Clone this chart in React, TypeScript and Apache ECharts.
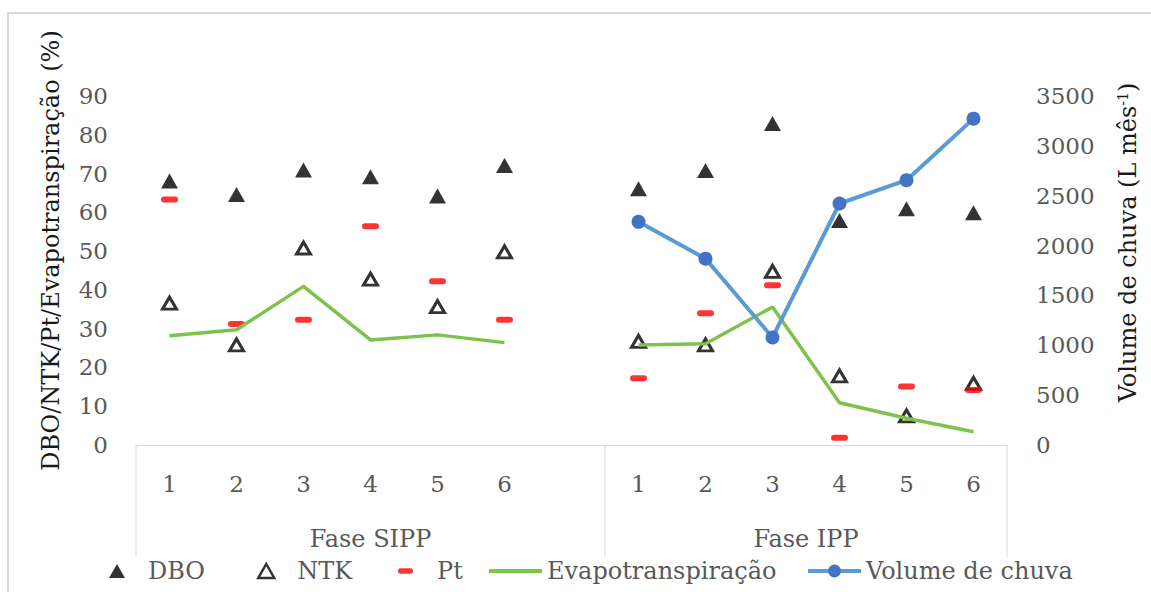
import React, { useEffect, useRef } from "react";
import * as echarts from "echarts";

const categories = ["1", "2", "3", "4", "5", "6", "", "1", "2", "3", "4", "5", "6"];
const groupLabels = ["Fase SIPP", "Fase IPP"];
const groupStartIdx = [0, 7];
const dbo = [68.1, 64.6, 70.9, 69.2, 64.2, 72.1, null, 66.1, 70.8, 82.9, 57.9, 60.9, 59.9];
const ntk = [36.6, 25.8, 50.8, 42.8, 35.7, 49.8, null, 26.7, 25.8, 44.8, 17.8, 7.5, 15.9];
const pt = [63.3, 31.2, 32.3, 56.4, 42.2, 32.3, null, 17.2, 34.0, 41.2, 1.9, 15.1, 14.2];
const evapo = [28.2, 29.7, 40.9, 27.1, 28.4, 26.4, null, 25.8, 26.1, 35.6, 10.9, 6.9, 3.4];
const chuva = [null, null, null, null, null, null, null, 2238, 1869, 1078, 2422, 2656, 3273];

const FONT = "DejaVu Serif";
const GRAY = "#595959";
const LINE_GRAY = "#d9d9d9";
const GREEN = "#7dc24a";
const PT_PATH = "path://M3,0 H14 A3,3 0 0 1 14,6 H3 A3,3 0 0 1 3,0 Z";
const BAR_PATH = "path://M0,0 H53 V4 H0 Z";

export default function App() {
  const ref = useRef<HTMLDivElement>(null);
  useEffect(() => {
    if (!ref.current) return;
    const chart = echarts.init(ref.current, null, { renderer: "svg" });
    const legendBase = {
      orient: "horizontal",
      padding: 0,
      top: 559,
      selectedMode: false,
      textStyle: { fontFamily: FONT, fontSize: 24, color: GRAY },
    };
    const option: any = {
      animation: false,
      backgroundColor: "#fff",
      grid: { left: 136, right: 144, top: 96, bottom: 147, containLabel: false },
      xAxis: {
        type: "category",
        data: categories,
        boundaryGap: true,
        axisLine: { show: true, lineStyle: { color: LINE_GRAY, width: 1 } },
        axisTick: { show: false },
        axisLabel: { fontFamily: FONT, fontSize: 23, color: GRAY, margin: 27, interval: 0 },
        splitLine: { show: false },
      },
      yAxis: [
        {
          type: "value",
          min: 0,
          max: 90,
          interval: 10,
          axisLine: { show: false },
          axisTick: { show: false },
          splitLine: { show: false },
          axisLabel: { fontFamily: FONT, fontSize: 23, color: GRAY, margin: 28 },
        },
        {
          type: "value",
          min: 0,
          max: 3500,
          interval: 500,
          position: "right",
          axisLine: { show: false },
          axisTick: { show: false },
          splitLine: { show: false },
          axisLabel: {
            fontFamily: FONT,
            fontSize: 23,
            color: GRAY,
            margin: 29,
            formatter: (v: number) => String(v),
          },
        },
      ],
      legend: [
        { ...legendBase, left: 109, itemWidth: 16, itemHeight: 14, data: ["DBO"],
          textStyle: { ...legendBase.textStyle, padding: [0, 0, 0, 18] } },
        { ...legendBase, left: 257, itemWidth: 16, itemHeight: 14, data: ["NTK"],
          itemStyle: { color: "#fff", borderColor: "#000", borderWidth: 2.5 },
          textStyle: { ...legendBase.textStyle, padding: [0, 0, 0, 18] } },
        { ...legendBase, left: 398, itemWidth: 15, itemHeight: 6, data: ["Pt"],
          textStyle: { ...legendBase.textStyle, padding: [0, 0, 0, 19] } },
        { ...legendBase, left: 489, itemWidth: 53, itemHeight: 4,
          data: [{ name: "Evapotranspiração", icon: BAR_PATH }],
          itemStyle: { color: GREEN, borderWidth: 0 } },
        { ...legendBase, left: 806, itemWidth: 53, itemHeight: 16, data: ["Volume de chuva"],
          lineStyle: { width: 4, color: "#5b9bd5" } },
      ],
      series: [
        {
          name: "DBO",
          type: "scatter",
          data: dbo,
          symbol: "triangle",
          symbolSize: [17, 15],
          itemStyle: { color: "#000" },
        },
        {
          name: "NTK",
          type: "scatter",
          data: ntk,
          symbol: "triangle",
          symbolSize: [14, 12],
          itemStyle: { color: "#fff", borderColor: "#000", borderWidth: 3 },
        },
        {
          name: "Pt",
          type: "scatter",
          data: pt,
          symbol: PT_PATH,
          symbolSize: [17, 6],
          itemStyle: { color: "#ff0000" },
        },
        {
          name: "Evapotranspiração",
          type: "line",
          data: evapo,
          symbol: "none",
          showSymbol: false,
          connectNulls: false,
          lineStyle: { color: GREEN, width: 3.5 },
          itemStyle: { color: GREEN },
        },
        {
          name: "Volume de chuva",
          type: "line",
          yAxisIndex: 1,
          data: chuva,
          symbol: "circle",
          symbolSize: 14,
          connectNulls: false,
          lineStyle: { color: "#5b9bd5", width: 4 },
          itemStyle: { color: "#4472c4" },
        },
      ],
    };
    chart.setOption(option);

    const c0 = chart.convertToPixel({ xAxisIndex: 0 }, 0) as number;
    const c1 = chart.convertToPixel({ xAxisIndex: 0 }, 1) as number;
    const half = (c1 - c0) / 2;
    const yBase = chart.convertToPixel({ yAxisIndex: 0 }, 0) as number;
    const yTop = chart.convertToPixel({ yAxisIndex: 0 }, 90) as number;
    const bounds = [
      ...groupStartIdx.map((i) => (chart.convertToPixel({ xAxisIndex: 0 }, i) as number) - half),
      (chart.convertToPixel({ xAxisIndex: 0 }, categories.length - 1) as number) + half,
    ];
    const graphics: any[] = [
      {
        type: "rect",
        id: "border",
        shape: { x: 8, y: 13, width: 1160, height: 600 },
        style: { fill: "none", stroke: LINE_GRAY, lineWidth: 2 },
        silent: true,
        z: -1,
      },
    ];
    bounds.forEach((bx, k) => {
      graphics.push({
        type: "line",
        id: "div" + k,
        shape: { x1: bx, y1: yBase, x2: bx, y2: yBase + 112 },
        style: { stroke: LINE_GRAY, lineWidth: 1 },
        silent: true,
      });
    });
    groupLabels.forEach((g, k) => {
      graphics.push({
        type: "text",
        id: "grp" + k,
        x: (bounds[k] + bounds[k + 1]) / 2,
        y: yBase + 94,
        style: {
          text: g,
          fontFamily: FONT,
          fontSize: 24,
          fill: GRAY,
          align: "center",
          verticalAlign: "middle",
        },
        silent: true,
      });
    });
    const midY = (yBase + yTop) / 2;
    graphics.push({
      type: "text",
      id: "ytitleL",
      x: 51,
      y: midY - 20,
      rotation: Math.PI / 2,
      style: {
        text: "DBO/NTK/Pt/Evapotranspiração (%)",
        fontFamily: FONT,
        fontSize: 24,
        fill: "#1a1a1a",
        align: "center",
        verticalAlign: "middle",
      },
      silent: true,
    });
    graphics.push({
      type: "text",
      id: "ytitleR",
      x: 1128,
      y: midY - 28,
      rotation: Math.PI / 2,
      style: {
        text: "Volume de chuva (L mês{sup|-1})",
        fontFamily: FONT,
        fontSize: 24,
        fill: "#1a1a1a",
        align: "center",
        verticalAlign: "middle",
        rich: {
          sup: { fontFamily: FONT, fontSize: 14, fill: "#1a1a1a", verticalAlign: "top", padding: [0, 0, 10, 0] },
        },
      },
      silent: true,
    });
    chart.setOption({ graphic: graphics });

    return () => chart.dispose();
  }, []);
  return (
    <div
      ref={ref}
      style={{ position: "fixed", left: 0, top: 0, width: 1151, height: 592, background: "#fff" }}
    />
  );
}
